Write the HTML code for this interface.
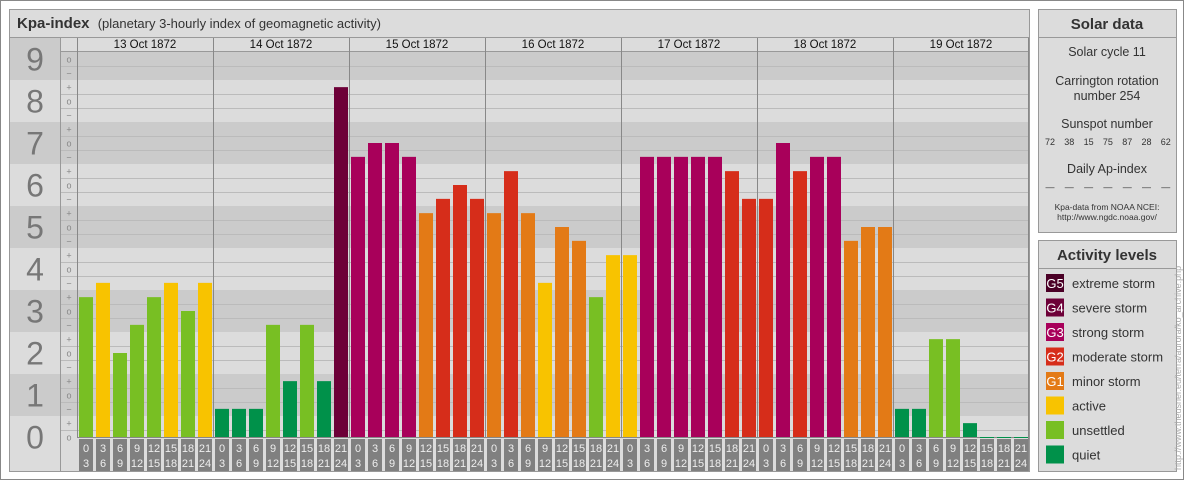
<!DOCTYPE html>
<html><head><meta charset="utf-8"><style>
body{margin:0;background:#fff;font-family:"Liberation Sans",sans-serif;}
svg text{font-family:"Liberation Sans",sans-serif;}
</style></head><body>
<svg id="c" width="1184" height="480" viewBox="0 0 1184 480" xmlns="http://www.w3.org/2000/svg">
<rect x="0.5" y="0.5" width="1183" height="479" fill="#fff" stroke="#888"/>
<rect x="9.5" y="9.5" width="1020" height="462" fill="#dcdcdc" stroke="#999"/>
<text x="17" y="28" font-size="15" font-weight="bold" fill="#333">Kpa-index <tspan font-weight="normal" font-size="13" dx="4">(planetary 3-hourly index of geomagnetic activity)</tspan></text>
<g id="plot"></g>
<line x1="10" y1="37.5" x2="1029" y2="37.5" stroke="#999"/>
<rect x="1038.5" y="9.5" width="138" height="223" fill="#dcdcdc" stroke="#999"/>
<line x1="1039" y1="37.5" x2="1176" y2="37.5" stroke="#999"/>
<text x="1107" y="29" font-size="15" font-weight="bold" fill="#333" text-anchor="middle">Solar data</text>
<g font-size="12.5" fill="#333" text-anchor="middle">
<text x="1107" y="56">Solar cycle 11</text>
<text x="1107" y="85">Carrington rotation</text>
<text x="1107" y="100">number 254</text>
<text x="1107" y="128">Sunspot number</text>
<text x="1107" y="173">Daily Ap-index</text>
</g>
<g id="ss" font-size="9" fill="#333" text-anchor="middle"></g>
<text x="1107" y="210" font-size="8.5" fill="#333" text-anchor="middle">Kpa-data from NOAA NCEI:</text>
<text x="1107" y="220" font-size="8.5" fill="#333" text-anchor="middle">http://www.ngdc.noaa.gov/</text>
<rect x="1038.5" y="240.5" width="138" height="231" fill="#dcdcdc" stroke="#999"/>
<line x1="1039" y1="268.5" x2="1176" y2="268.5" stroke="#999"/>
<text x="1107" y="260" font-size="15" font-weight="bold" fill="#333" text-anchor="middle">Activity levels</text>
<g id="leg"></g>
<text transform="translate(1181,470) rotate(-90)" font-size="9" fill="#aaa">http://www.theusner.eu/terra/aurora/ko_archive.php</text>
</svg>
<script>
const days=["13 Oct 1872","14 Oct 1872","15 Oct 1872","16 Oct 1872","17 Oct 1872","18 Oct 1872","19 Oct 1872"];
const kp=[3.33,3.67,2,2.67,3.33,3.67,3,3.67,
0.67,0.67,0.67,2.67,1.33,2.67,1.33,8.33,
6.67,7,7,6.67,5.33,5.67,6,5.67,
5.33,6.33,5.33,3.67,5,4.67,3.33,4.33,
4.33,6.67,6.67,6.67,6.67,6.67,6.33,5.67,
5.67,7,6.33,6.67,6.67,4.67,5,5,
0.67,0.67,2.33,2.33,0.33,0,0,0];
const sunspots=[72,38,15,75,87,28,62];
const hoursFrom=["0","3","6","9","12","15","18","21"];
const hoursTo=["3","6","9","12","15","18","21","24"];
const yTicks=[0,1,2,3,4,5,6,7,8,9];
const levels=[["G5","extreme storm","#4a0026"],["G4","severe storm","#6d0038"],["G3","strong storm","#a8005a"],["G2","moderate storm","#d62d1a"],["G1","minor storm","#e37a16"],["","active","#f8c300"],["","unsettled","#78bf23"],["","quiet","#00914a"]];
const NS="http://www.w3.org/2000/svg";
const Y0=437,U=42,X0=77,DW=136,BP=17;
const y=v=>Y0-v*U;
const x=i=>X0+Math.floor(i/8)*DW+(i%8)*BP+2;
function mk(p,t,a,txt){const e=document.createElementNS(NS,t);for(const k in a)e.setAttribute(k,a[k]);if(txt!==undefined)e.textContent=txt;p.appendChild(e);return e;}
function col(v){if(v>=8.67)return levels[0][2];if(v>=7.67)return levels[1][2];if(v>=6.67)return levels[2][2];if(v>=5.67)return levels[3][2];if(v>=4.67)return levels[4][2];if(v>=3.67)return levels[5][2];if(v>=1.67)return levels[6][2];return levels[7][2];}
const g=document.getElementById('plot');
yTicks.forEach(n=>{
 const top=Math.max(y(n+0.5),n===9?38:51),bot=Math.min(y(n-0.5),471);
 const b=mk(g,'rect',{x:10,y:top,width:1019,height:bot-top,fill:n%2?'#cbcbcb':'#dcdcdc'});
 
 
 [[1/3,'+'],[0,'o'],[-1/3,'−']].forEach(([d,s])=>{const v=n+d;if(v<0||v>9.1)return;mk(g,'text',{x:69,y:y(v)+3.5,'font-size':9,fill:'#888','text-anchor':'middle'},s);});
 [1/6,-1/6].forEach(d=>{const v=n+d;if(v<0||v>9)return;mk(g,'line',{x1:60,x2:1029,y1:y(v)+0.5,y2:y(v)+0.5,stroke:'#bbb'});});
});
mk(g,'rect',{x:60,y:37,width:969,height:14,fill:'#dcdcdc'});
yTicks.forEach(n=>{
 const t=mk(g,'text',{x:35,y:y(n)+11.5,'font-size':32,fill:'#777','text-anchor':'middle'},String(n));
 
 
});
mk(g,'line',{x1:60.5,x2:60.5,y1:38,y2:471,stroke:'#999'});
mk(g,'line',{x1:60,x2:1029,y1:51.5,y2:51.5,stroke:'#999'});
days.forEach((d,i)=>{
 const xs=X0+i*DW;
 mk(g,'line',{x1:xs+0.5,x2:xs+0.5,y1:38,y2:471,stroke:'#888'});
 const t=mk(g,'text',{x:xs+DW/2,y:48,'font-size':11.5,fill:'#111','text-anchor':'middle'},d);
 
 
});
mk(g,'rect',{x:X0,y:437,width:952,height:34,fill:'#dcdcdc'});
mk(g,'line',{x1:X0,x2:1029,y1:437.5,y2:437.5,stroke:'#888'});
kp.forEach((v,i)=>{
 const top=y(v);
 const r=mk(g,'rect',{x:x(i),y:top,width:14,height:Math.max(Y0-top,1),fill:col(v)});
 
 
 const lb=mk(g,'rect',{x:x(i),y:439,width:14,height:32,fill:'#808080'});
 
 
 mk(g,'text',{x:x(i)+7,y:452,'font-size':11,fill:'#eee','text-anchor':'middle'},hoursFrom[i%8]);
 mk(g,'text',{x:x(i)+7,y:467,'font-size':11,fill:'#eee','text-anchor':'middle'},hoursTo[i%8]);
});
mk(g,'line',{x1:1028.5,x2:1028.5,y1:38,y2:471,stroke:'#888'});
const ss=document.getElementById('ss');
sunspots.forEach((s,i)=>{
 const t=mk(ss,'text',{x:1050+i*19.3,y:145},String(s));
 
 
 mk(ss,'text',{x:1050+i*19.3,y:190},'—');
});
const lg=document.getElementById('leg');
levels.forEach((l,i)=>{
 const yy=274+i*24.5;
 const r=mk(lg,'rect',{x:1046,y:yy,width:18,height:18,fill:l[2]});
 
 
 if(l[0])mk(lg,'text',{x:1055,y:yy+14,'font-size':13,fill:'#fff','text-anchor':'middle'},l[0]);
 const t=mk(lg,'text',{x:1072,y:yy+14,'font-size':13,fill:'#333'},l[1]);
 
 
});
</script>
</body></html>
